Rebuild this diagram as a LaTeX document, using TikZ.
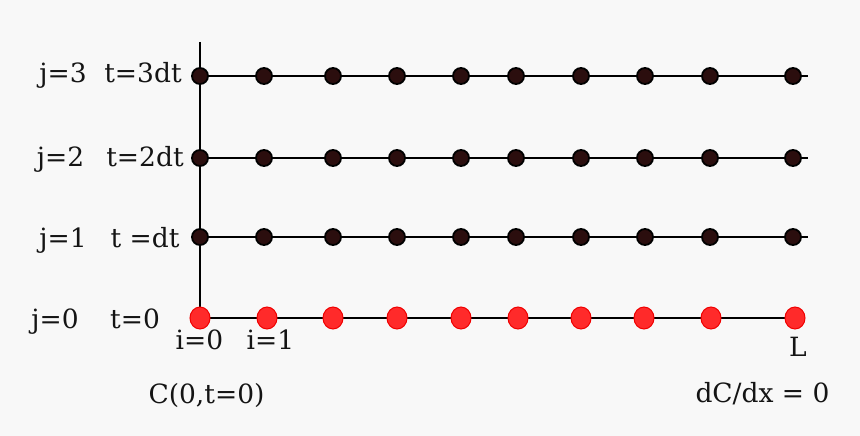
\documentclass[tikz,border=0pt]{standalone}
\usepackage{fontspec}
\setmainfont{DejaVu Serif}
\usetikzlibrary{backgrounds,shapes.geometric}
\definecolor{bg}{HTML}{F8F8F8}
\definecolor{dotdark}{HTML}{2B0E0E}
\definecolor{dotred}{HTML}{FF2A2A}
\definecolor{dotredline}{HTML}{F00000}
\tikzset{
  blackdot/.style={circle,draw=black,fill=dotdark,line width=1.8pt,minimum size=16pt,inner sep=0pt},
  reddot/.style={ellipse,draw=dotredline,fill=dotred,line width=1pt,minimum width=20pt,minimum height=22pt,inner sep=0pt},
  gridline/.style={draw=black,line width=2.4pt},
  lbl/.style={font=\fontsize{26.5pt}{30pt}\selectfont,inner sep=0pt,text=black!92,anchor=base}
}
\begin{document}
\begin{tikzpicture}[x=1pt,y=-1pt]
\useasboundingbox (0,0) rectangle (860,436);
% rows of black dots
\foreach \r/\yy in {1/237,2/158,3/76}{
  \foreach \c/\xx in {0/200,1/264,2/333,3/397,4/461,5/516,6/581,7/645,8/710,9/793}{
    \node[blackdot] (d\c-\r) at (\xx,\yy) {};
  }
  \coordinate (e\r) at (808,\yy);
}
\foreach \c/\xx in {0/200,1/267,2/333,3/397,4/461,5/518,6/581,7/644,8/711,9/795}{
  \node[reddot] (d\c-0) at (\xx,318) {};
}
\coordinate (vtop) at (200,42);
\coordinate (vbot) at (200,322);
\begin{scope}[on background layer]
  \fill[bg] (0,0) rectangle (860,436);
  \draw[gridline] (vtop) -- (vbot);
  \foreach \r in {1,2,3}{ \draw[gridline] (d0-\r.center) -- (e\r); }
  \draw[gridline] (d0-0.center) -- (d9-0.center);
\end{scope}
% labels
\node[lbl] (j3) at (63,82) {j=3};
\node[lbl] (t3) at (143,83) {t=3dt};
\node[lbl] (j2) at (60.5,166) {j=2};
\node[lbl] (t2) at (145,166) {t=2dt};
\node[lbl] (j1) at (63,247) {j=1};
\node[lbl] (t1) at (145,247) {t =dt};
\node[lbl] (j0) at (55,328) {j=0};
\node[lbl] (t0) at (135,328) {t=0};
\node[lbl] (i0) at (199.5,349) {i=0};
\node[lbl] (i1) at (270.5,349) {i=1};
\node[lbl] (L) at (798,356) {L};
\node[lbl] (bc0) at (206.5,403) {C(0,t=0)};
\node[lbl] (bcL) at (762.5,402) {dC/dx = 0};
\end{tikzpicture}
\end{document}
